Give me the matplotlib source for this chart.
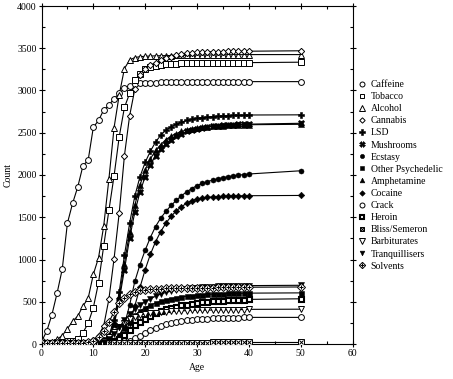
import matplotlib
matplotlib.use('Agg')
import matplotlib.pyplot as plt
from matplotlib.lines import Line2D
from matplotlib.ticker import MultipleLocator

plt.rcParams.update({
    'font.family': ['Liberation Serif', 'DejaVu Serif'],
    'font.size': 7,
})

ages = list(range(0, 41)) + [50]

caffeine = [30, 150, 345, 600, 885, 1430, 1665, 1860, 2110, 2175, 2565, 2645, 2770, 2825, 2905, 2965,
            3025, 3055, 3075, 3085, 3090, 3092, 3094, 3095, 3096, 3097, 3098, 3099, 3100, 3100, 3101,
            3101, 3102, 3102, 3103, 3103, 3104, 3104, 3104, 3105, 3105, 3105]
tobacco = [10, 12, 15, 18, 22, 30, 40, 60, 135, 245, 430, 725, 1160, 1580, 1990, 2455, 2800, 2965,
           3120, 3195, 3260, 3280, 3295, 3305, 3310, 3315, 3318, 3320, 3321, 3322, 3323, 3324, 3325,
           3326, 3327, 3327, 3328, 3328, 3329, 3329, 3330, 3335]
alcohol = [10, 15, 25, 55, 100, 180, 270, 330, 450, 540, 825, 1020, 1395, 1950, 2560, 2950, 3260,
           3360, 3390, 3400, 3405, 3408, 3410, 3412, 3413, 3414, 3415, 3416, 3417, 3418, 3419, 3420,
           3420, 3421, 3422, 3422, 3423, 3423, 3424, 3424, 3425, 3425]
cannabis = [5, 6, 7, 8, 9, 10, 11, 13, 15, 25, 45, 100, 215, 530, 1010, 1555, 2230, 2700, 3015,
            3180, 3260, 3300, 3330, 3360, 3380, 3400, 3415, 3430, 3440, 3448, 3452, 3455, 3457,
            3459, 3460, 3461, 3462, 3463, 3464, 3464, 3465, 3470]
lsd = [10, 10, 10, 10, 10, 10, 12, 12, 14, 16, 20, 30, 50, 100, 280, 620, 1050, 1430, 1750, 1980,
       2150, 2280, 2390, 2470, 2530, 2570, 2600, 2625, 2645, 2660, 2672, 2680, 2686, 2692, 2696,
       2700, 2703, 2705, 2707, 2708, 2710, 2712]
mushrooms = [10, 10, 10, 10, 10, 10, 10, 11, 12, 13, 15, 25, 40, 80, 220, 520, 880, 1250, 1560,
             1800, 1980, 2120, 2230, 2310, 2370, 2420, 2460, 2490, 2515, 2535, 2550, 2560, 2568,
             2575, 2582, 2588, 2592, 2596, 2598, 2600, 2602, 2612]
ecstasy = [10, 10, 10, 10, 10, 10, 10, 10, 10, 10, 10, 11, 12, 15, 30, 90, 230, 460, 740, 940,
           1110, 1260, 1390, 1490, 1570, 1640, 1700, 1755, 1800, 1840, 1875, 1900, 1920, 1940,
           1955, 1968, 1980, 1990, 1998, 2005, 2012, 2050]
other_psych = [10, 10, 10, 10, 10, 10, 10, 10, 10, 10, 10, 11, 13, 20, 50, 110, 190, 270, 340,
               390, 430, 460, 485, 505, 520, 535, 548, 558, 566, 573, 579, 584, 588, 591, 594,
               596, 598, 599, 600, 601, 602, 605]
amphetamine = [10, 10, 10, 10, 10, 10, 10, 11, 12, 13, 15, 25, 45, 90, 250, 560, 950, 1330, 1640,
               1880, 2060, 2190, 2290, 2360, 2420, 2460, 2490, 2515, 2535, 2550, 2560, 2567,
               2573, 2578, 2582, 2585, 2588, 2590, 2592, 2594, 2595, 2600]
cocaine = [10, 10, 10, 10, 10, 10, 10, 10, 10, 10, 10, 10, 11, 13, 20, 45, 110, 250, 450, 670,
           880, 1060, 1210, 1330, 1430, 1510, 1575, 1625, 1665, 1695, 1715, 1728, 1735, 1740,
           1744, 1747, 1750, 1752, 1753, 1754, 1755, 1758]
crack = [10, 10, 10, 10, 10, 10, 10, 10, 10, 10, 10, 11, 12, 14, 18, 24, 30, 40, 70, 100, 135,
         165, 190, 215, 235, 250, 262, 272, 280, 287, 292, 296, 300, 303, 306, 308, 310, 312, 313,
         314, 315, 315]
heroin = [10, 10, 10, 10, 10, 10, 10, 10, 10, 10, 10, 11, 12, 15, 30, 60, 110, 170, 220, 265,
          300, 335, 365, 390, 410, 428, 443, 456, 467, 477, 485, 492, 498, 504, 509, 513, 517,
          520, 523, 526, 528, 535]
bliss = [10, 10, 10, 10, 10, 10, 10, 10, 10, 11, 11, 12, 12, 13, 13, 14, 14, 14, 15, 15, 15, 15,
         16, 16, 16, 16, 16, 17, 17, 17, 17, 17, 17, 18, 18, 18, 18, 18, 18, 18, 18, 18]
barbiturates = [10, 10, 10, 10, 10, 10, 10, 10, 10, 10, 12, 20, 40, 80, 140, 200, 250, 290, 320,
                340, 355, 365, 372, 378, 383, 387, 390, 393, 395, 397, 399, 400, 401, 402, 403,
                404, 405, 406, 407, 408, 410, 412]
tranquillisers = [10, 10, 10, 10, 10, 10, 10, 10, 10, 10, 12, 15, 25, 60, 120, 200, 280, 350, 410,
                  460, 500, 535, 565, 590, 610, 625, 638, 648, 656, 663, 668, 672, 676, 679, 682,
                  684, 686, 688, 689, 690, 691, 695]
solvents = [10, 10, 10, 10, 10, 10, 10, 12, 15, 20, 40, 80, 150, 260, 380, 480, 550, 595, 620,
            635, 643, 648, 652, 655, 658, 660, 661, 662, 663, 664, 665, 666, 667, 668, 669, 669,
            670, 670, 671, 671, 672, 675]

names = ['Caffeine', 'Tobacco', 'Alcohol', 'Cannabis', 'LSD', 'Mushrooms', 'Ecstasy',
         'Other Psychedelic', 'Amphetamine', 'Cocaine', 'Crack', 'Heroin', 'Bliss/Semeron',
         'Barbiturates', 'Tranquillisers', 'Solvents']
series = [caffeine, tobacco, alcohol, cannabis, lsd, mushrooms, ecstasy, other_psych,
          amphetamine, cocaine, crack, heroin, bliss, barbiturates, tranquillisers, solvents]

# marker styles: list of (marker, size, face, edgewidth) layers drawn on top of each other
W, K = 'white', 'black'
STYLES = [
    [('o', 4.2, W, 0.7)],
    [('s', 4.2, W, 0.7)],
    [('^', 4.4, W, 0.7)],
    [('D', 3.2, W, 0.7)],
    [('P', 4.4, K, 0.4)],
    [('X', 4.4, K, 0.4)],
    [('o', 3.6, K, 0.4)],
    [('s', 3.6, K, 0.4)],
    [('^', 4.0, K, 0.4)],
    [('D', 3.3, K, 0.4)],
    [('o', 4.2, W, 0.7)],
    [('s', 3.6, W, 1.5)],
    [('s', 3.8, W, 0.7), ('x', 2.6, K, 0.7)],
    [('v', 4.4, W, 0.7)],
    [('v', 4.0, K, 0.4)],
    [('D', 3.8, W, 0.7), ('+', 3.4, K, 0.7)],
]

fig = plt.figure(figsize=(4.53, 3.79), dpi=100)
ax = fig.add_axes([41.5 / 453, 1 - 344 / 379, 311 / 453, 338 / 379])

handles = []
for name, vals, layers in zip(names, series, STYLES):
    ax.plot(ages, vals, color=K, linewidth=0.8, zorder=2)
    parts = []
    for mk, ms, fc, mew in layers:
        ax.plot(ages, vals, linestyle='none', marker=mk, markersize=ms,
                markerfacecolor=fc, markeredgecolor=K, markeredgewidth=mew, zorder=3)
        parts.append(Line2D([], [], linestyle='none', marker=mk, markersize=ms * 0.85,
                            markerfacecolor=fc, markeredgecolor=K, markeredgewidth=mew))
    handles.append(tuple(parts) if len(parts) > 1 else parts[0])

ax.set_xlim(0, 60)
ax.set_ylim(0, 4000)
ax.xaxis.set_major_locator(MultipleLocator(10))
ax.xaxis.set_minor_locator(MultipleLocator(5))
ax.yaxis.set_major_locator(MultipleLocator(500))
ax.yaxis.set_minor_locator(MultipleLocator(250))
ax.tick_params(which='major', direction='inout', length=4, width=0.8, top=True, right=True,
               labelsize=7, pad=1.5)
ax.tick_params(which='minor', direction='in', length=2.5, width=0.8, top=True, right=True)
for s in ax.spines.values():
    s.set_linewidth(0.8)

ax.set_xlabel('Age', fontsize=7, labelpad=4)
ax.set_ylabel('Count', fontsize=7, labelpad=3)

fig.legend(handles, names, loc='upper left', bbox_to_anchor=(358 / 453, 1 - 80 / 379),
           frameon=False, fontsize=7, handlelength=0.8, handletextpad=0.5,
           labelspacing=0.32, borderaxespad=0, borderpad=0)

fig.savefig('out.png', dpi=100)
